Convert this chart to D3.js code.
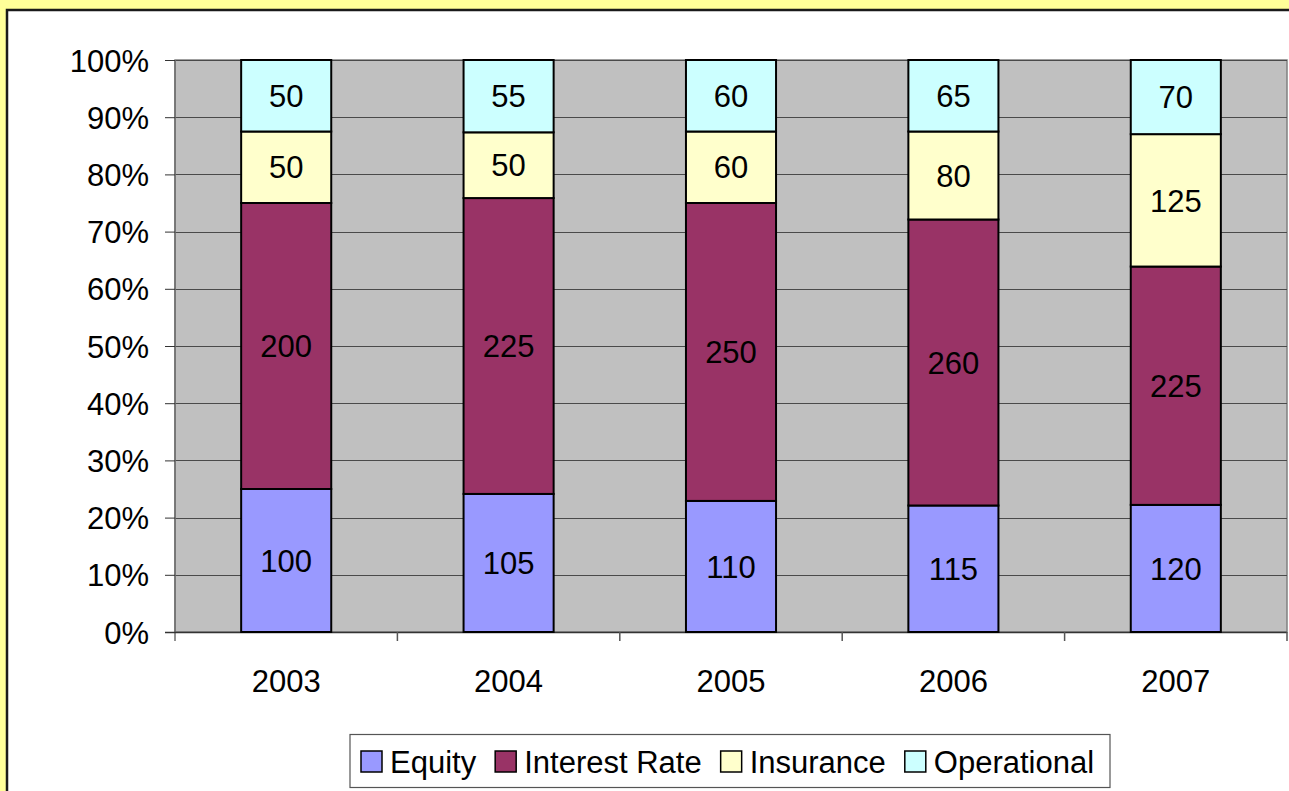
<!DOCTYPE html>
<html><head><meta charset="utf-8">
<script src="https://cdn.jsdelivr.net/npm/d3@7"></script>
<style>html,body{margin:0;padding:0;background:#FFFF99;overflow:hidden}</style>
</head><body>
<svg id="c" width="1289" height="791"></svg>
<script>
const years = ["2003","2004","2005","2006","2007"];
const seriesNames = ["Equity","Interest Rate","Insurance","Operational"];
const equity = [100,105,110,115,120];
const interestRate = [200,225,250,260,225];
const insurance = [50,50,60,80,125];
const operational = [50,55,60,65,70];
const yTicks = [0,0.1,0.2,0.3,0.4,0.5,0.6,0.7,0.8,0.9,1];
const colors = ["#9999FF","#993366","#FFFFCC","#CCFFFF"];

const seriesVals = [equity, interestRate, insurance, operational];
const rows = years.map((y,i)=>{const r={year:y}; seriesNames.forEach((s,j)=>r[s]=seriesVals[j][i]); return r;});
const stack = d3.stack().keys(seriesNames).offset(d3.stackOffsetExpand)(rows);

const svg = d3.select("#c");
const font = "'Liberation Sans', Arial, sans-serif";
const fs = 31;
svg.append("rect").attr("x",0).attr("y",0).attr("width",1289).attr("height",791).attr("fill","#FFFF99");
svg.append("rect").attr("x",7).attr("y",10).attr("width",1300).attr("height",800).attr("fill","#fff").attr("stroke","#1a1a1a").attr("stroke-width",2.5);

const L=175, R=1287, T=60, B=632;
const x = d3.scaleBand().domain(years).range([L,R]).paddingInner(0.595).paddingOuter(0.2975);
const xb = d3.scaleBand().domain(years).range([L,R]);
const y = d3.scaleLinear().domain([0,1]).range([B,T]);

svg.append("rect").attr("x",L).attr("y",T).attr("width",R-L).attr("height",B-T).attr("fill","#C0C0C0").attr("stroke","#808080").attr("stroke-width",1.5);

svg.append("g").selectAll("line").data(yTicks.slice(1)).join("line")
  .attr("x1",L).attr("x2",R).attr("y1",d=>Math.round(y(d))+0.5).attr("y2",d=>Math.round(y(d))+0.5)
  .attr("stroke","#4a4a4a").attr("stroke-width",1);

const yAxis = d3.axisLeft(y).tickValues(yTicks).tickFormat(d3.format(".0%")).tickSize(10).tickPadding(16);
const gy = svg.append("g").attr("transform",`translate(${L},0)`).call(yAxis);
gy.select(".domain").attr("stroke","#6e6e6e").attr("stroke-width",1.5).attr("d",`M0,${T}V${B+9}`);
gy.selectAll(".tick line").attr("stroke","#333");
gy.selectAll("text").attr("font-family",font).attr("font-size",fs).attr("fill","#000").attr("dy","0.36em");

const gx = svg.append("g").attr("transform",`translate(0,${B})`);
gx.append("line").attr("x1",L-10).attr("x2",R).attr("y1",0.5).attr("y2",0.5).attr("stroke","#333").attr("stroke-width",1.5);
const bounds = years.map(yy=>xb(yy)).concat([R]).slice(1);
gx.selectAll("line.tk").data(bounds).join("line").attr("class","tk")
  .attr("x1",d=>d).attr("x2",d=>d).attr("y1",0).attr("y2",9).attr("stroke","#555").attr("stroke-width",1.5);
gx.selectAll("text").data(years).join("text")
  .attr("x",d=>xb(d)+xb.bandwidth()/2).attr("y",60).attr("text-anchor","middle")
  .attr("font-family",font).attr("font-size",fs).attr("fill","#000").text(d=>d);

const g = svg.append("g");
stack.forEach((layer,j)=>{
  g.append("g").selectAll("rect").data(layer).join("rect")
    .attr("x",d=>x(d.data.year)).attr("width",x.bandwidth())
    .attr("y",d=>y(d[1])).attr("height",d=>y(d[0])-y(d[1]))
    .attr("fill",colors[j]).attr("stroke","#000").attr("stroke-width",2);
});
stack.forEach((layer,j)=>{
  g.append("g").selectAll("text").data(layer).join("text")
    .attr("x",d=>x(d.data.year)+x.bandwidth()/2).attr("y",d=>(y(d[0])+y(d[1]))/2)
    .attr("dy","0.36em").attr("text-anchor","middle")
    .attr("font-family",font).attr("font-size",fs).attr("fill","#000")
    .text(d=>d.data[seriesNames[j]]);
});

const lgG = svg.append("g");
lgG.append("rect").attr("x",350).attr("y",734.5).attr("width",760).attr("height",53).attr("fill","#fff").attr("stroke","#555").attr("stroke-width",1.2);
const items = lgG.selectAll("g").data(seriesNames).join("g");
let cx = 361;
items.each(function(d,i){
  const it = d3.select(this);
  it.append("rect").attr("x",cx).attr("y",751).attr("width",21).attr("height",21).attr("fill",colors[i]).attr("stroke","#000").attr("stroke-width",1.5);
  const t = it.append("text").attr("x",cx+29).attr("y",773).attr("font-family",font).attr("font-size",fs).attr("fill","#000").text(d);
  cx += 29 + t.node().getComputedTextLength() + 19;
});
</script>
</body></html>
